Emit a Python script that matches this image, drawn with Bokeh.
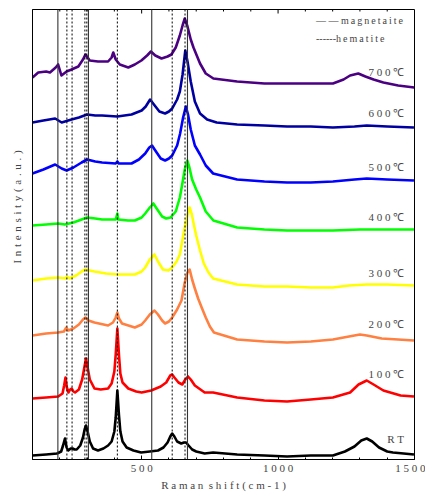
from bokeh.plotting import figure
from bokeh.models import Span, SingleIntervalTicker, FixedTicker, ColumnDataSource
from bokeh.core.properties import value
from bokeh.embed import file_html
from bokeh.resources import INLINE

# ---- data (y in arbitrary offset intensity units) ----
rt_x = [100,150,190,205,212,219,225,231,240,247,254,262,275,285,291,296,302,310,322,340,360,377,390,400,405,411,417,422,430,445,470,498,530,560,580,595,605,612,620,630,645,655,663,672,685,700,731,762,850,950,1033,1120,1201,1245,1280,1305,1325,1345,1370,1400,1421,1460,1498]
rt_y = [4,5,6,8,14,21,12,9,11,11,10,10,14,22,30,34,28,18,11,9,11,14,18,28,42,69,44,28,18,12,9,7,8,9,12,17,23,26,23,18,16,17,17,14,10,8,6,7,5,4,3,4,4,8,13,19,21,18,12,8,7,6,5]

t100_x = [100,150,194,210,216,221,226,232,238,244,250,256,270,282,290,296,302,310,327,350,377,390,400,405,411,417,422,430,451,480,500,535,570,590,605,612,620,635,649,660,670,680,695,731,762,850,950,1033,1120,1201,1264,1295,1325,1350,1386,1449,1498]
t100_y = [61,62,63,66,74,82,72,67,70,71,68,67,70,80,92,101,92,80,71,70,71,76,88,105,131,104,86,77,71,68,67,69,73,77,84,85,82,77,75,80,83,80,74,67,67,62,59,58,60,62,67,75,79,75,69,64,63]

t200_x = [100,150,194,215,224,231,250,270,285,294,305,327,377,395,405,411,417,428,475,500,513,530,547,560,575,586,600,612,630,646,658,668,676,685,695,707,720,735,750,765,850,950,1033,1120,1201,1260,1300,1325,1380,1440,1498]
t200_y = [124,126,127,128,132,129,131,135,140,142,139,137,134,137,142,147,141,136,132,135,139,145,149,145,139,136,138,142,150,159,177,187,190,180,171,161,152,142,133,127,120,118,117,118,120,123,125,124,121,120,119]

t300_x = [100,150,194,220,227,236,260,280,294,310,327,370,411,475,500,513,530,547,560,578,598,612,628,640,655,668,676,684,692,700,714,728,745,762,850,950,1033,1120,1201,1260,1325,1400,1498]
t300_y = [179,181,182,181,183,181,184,188,190,189,188,186,185,185,188,192,200,205,198,190,189,192,198,205,228,245,252,245,234,224,209,196,187,181,175,173,173,172,172,174,175,175,174]

t400_x = [100,150,194,218,250,280,300,330,355,405,411,414,450,475,500,513,530,543,555,575,590,606,625,640,648,658,667,675,685,700,714,735,763,850,950,1033,1120,1201,1300,1400,1498]
t400_y = [234,235,236,235,237,240,242,241,240,240,246,240,239,239,242,246,252,256,251,243,241,242,248,262,274,290,299,292,280,270,262,248,239,232,230,229,229,229,230,230,230]

t500_x = [100,140,183,207,225,250,280,300,330,355,405,411,416,463,490,513,528,538,550,570,586,600,612,630,641,652,662,670,680,695,714,735,762,850,950,1033,1120,1201,1280,1325,1400,1498]
t500_y = [286,290,295,291,289,292,297,300,298,297,296,298,296,296,300,306,312,314,309,301,299,301,304,314,326,342,353,345,330,314,305,294,286,280,278,277,277,278,280,281,280,279]

t600_x = [100,140,183,207,243,270,300,330,355,411,463,500,515,531,545,565,586,600,612,630,640,650,660,668,680,695,714,740,775,850,950,1033,1120,1201,1280,1325,1400,1498]
t600_y = [337,339,341,337,340,342,345,344,344,343,345,349,353,360,355,348,346,348,351,360,368,385,409,398,378,358,346,340,337,335,334,333,333,332,333,334,333,332]

t700_x = [100,121,150,164,185,194,206,225,243,268,285,294,310,340,377,390,396,405,420,451,475,499,520,534,550,573,595,609,625,640,650,658,668,680,690,702,714,735,763,850,950,1032,1120,1201,1240,1264,1294,1320,1350,1386,1440,1499]
t700_y = [382,387,388,387,392,395,384,388,390,393,400,405,399,398,398,402,407,400,395,392,395,399,404,408,404,401,403,405,412,424,434,441,433,420,412,404,396,386,381,378,376,376,376,376,380,384,386,383,380,377,374,372]

series_x = [rt_x, t100_x, t200_x, t300_x, t400_x, t500_x, t600_x, t700_x]
series_y = [rt_y, t100_y, t200_y, t300_y, t400_y, t500_y, t600_y, t700_y]
series_colors = ["#000000", "#FF0000", "#FF8040", "#FFFF00", "#00FF00", "#0000FF", "#0000A0", "#4B0082"]

label_text = ["R T", "1 0 0 \u2103", "2 0 0 \u2103", "3 0 0 \u2103", "4 0 0 \u2103", "5 0 0 \u2103", "6 0 0 \u2103", "7 0 0 \u2103"]
label_x = [1462] * 8
label_y = [21, 86, 136, 187, 243, 293, 347, 388]

magnetite_lines = [193, 305, 537, 668]
hematite_lines = [226, 245, 292, 299, 411, 612, 659]

legend_marks = ["\u2014 \u2014  ", "------"]
legend_words = ["magnetaite", "hematite"]
legend_x = [1139, 1139]
legend_y = [439, 421]

x_ticks = [500, 1000, 1500]
x_tick_labels = ["5 0 0", "1 0 0 0", "1 5 0 0"]
x_minor_step = 100

x_title = "Raman shift(cm-1)"
y_title = "Intensity(a.u.)"

X_START, X_END, Y_TOP = 100, 1500, 450
FONT = "Liberation Serif"

p = figure(width=425, height=493, x_range=(X_START, X_END), y_range=(0, Y_TOP),
           output_backend="svg", toolbar_location=None,
           min_border_left=32, min_border_right=11, min_border_top=9, min_border_bottom=34)
p.grid.visible = False
p.outline_line_color = "black"
p.outline_line_width = 1
p.background_fill_color = "white"

for xs, ys, c in zip(series_x, series_y, series_colors):
    p.line(xs, ys, line_color=c, line_width=2.6, line_join="round")

for loc in magnetite_lines:
    p.add_layout(Span(location=loc, dimension="height", line_color="#333333", line_width=1.1))
for loc in hematite_lines:
    p.add_layout(Span(location=loc, dimension="height", line_color="#000000", line_width=1, line_dash="2 2"))

# inward tick marks along the top edge (1 y-unit = 1 px here)
top_ticks = list(range(X_START + x_minor_step, X_END, x_minor_step))
top_len = [4 if t in x_ticks else 2 for t in top_ticks]
p.segment(x0=top_ticks, y0=[Y_TOP] * len(top_ticks), x1=top_ticks,
          y1=[Y_TOP - L for L in top_len], line_color="black", line_width=1)

lab_src = ColumnDataSource(dict(x=label_x, y=label_y, t=label_text))
p.text(x="x", y="y", text="t", source=lab_src, text_align="right", text_baseline="middle",
       text_font=value(FONT), text_font_size="11px", text_color="#444444")

legend_text = [m + "\u2009".join(w) for m, w in zip(legend_marks, legend_words)]
leg_src = ColumnDataSource(dict(x=legend_x, y=legend_y, t=legend_text))
p.text(x="x", y="y", text="t", source=leg_src, text_align="left", text_baseline="middle",
       text_font=value(FONT), text_font_size="10px", text_color="#444444")

# bottom axis
xa = p.xaxis[0]
xa.ticker = SingleIntervalTicker(interval=500, num_minor_ticks=5)
xa.major_label_overrides = {t: s for t, s in zip(x_ticks, x_tick_labels)}
xa.major_tick_in = 4
xa.major_tick_out = 0
xa.minor_tick_in = 2
xa.minor_tick_out = 0
xa.major_label_standoff = 2
xa.major_label_text_font = FONT
xa.major_label_text_font_size = "11px"
xa.major_label_text_color = "#444444"
xa.axis_label = " ".join(x_title).replace("n   s", "n\u00a0\u00a0s")
xa.axis_label_text_font = FONT
xa.axis_label_text_font_size = "11px"
xa.axis_label_text_font_style = "normal"
xa.axis_label_text_color = "#444444"
xa.axis_label_standoff = 2

ya = p.yaxis[0]
ya.ticker = FixedTicker(ticks=[])
ya.major_tick_line_color = None
ya.minor_tick_line_color = None
ya.major_label_standoff = 0
ya.axis_label = "\u200b" + "\u00a0" * 20 + "\u00a0\u200a".join(y_title)
ya.axis_label_text_font = FONT
ya.axis_label_text_font_size = "11px"
ya.axis_label_text_font_style = "normal"
ya.axis_label_text_color = "#444444"
ya.axis_label_standoff = 10

open("out.html", "w").write(file_html(p, INLINE))
